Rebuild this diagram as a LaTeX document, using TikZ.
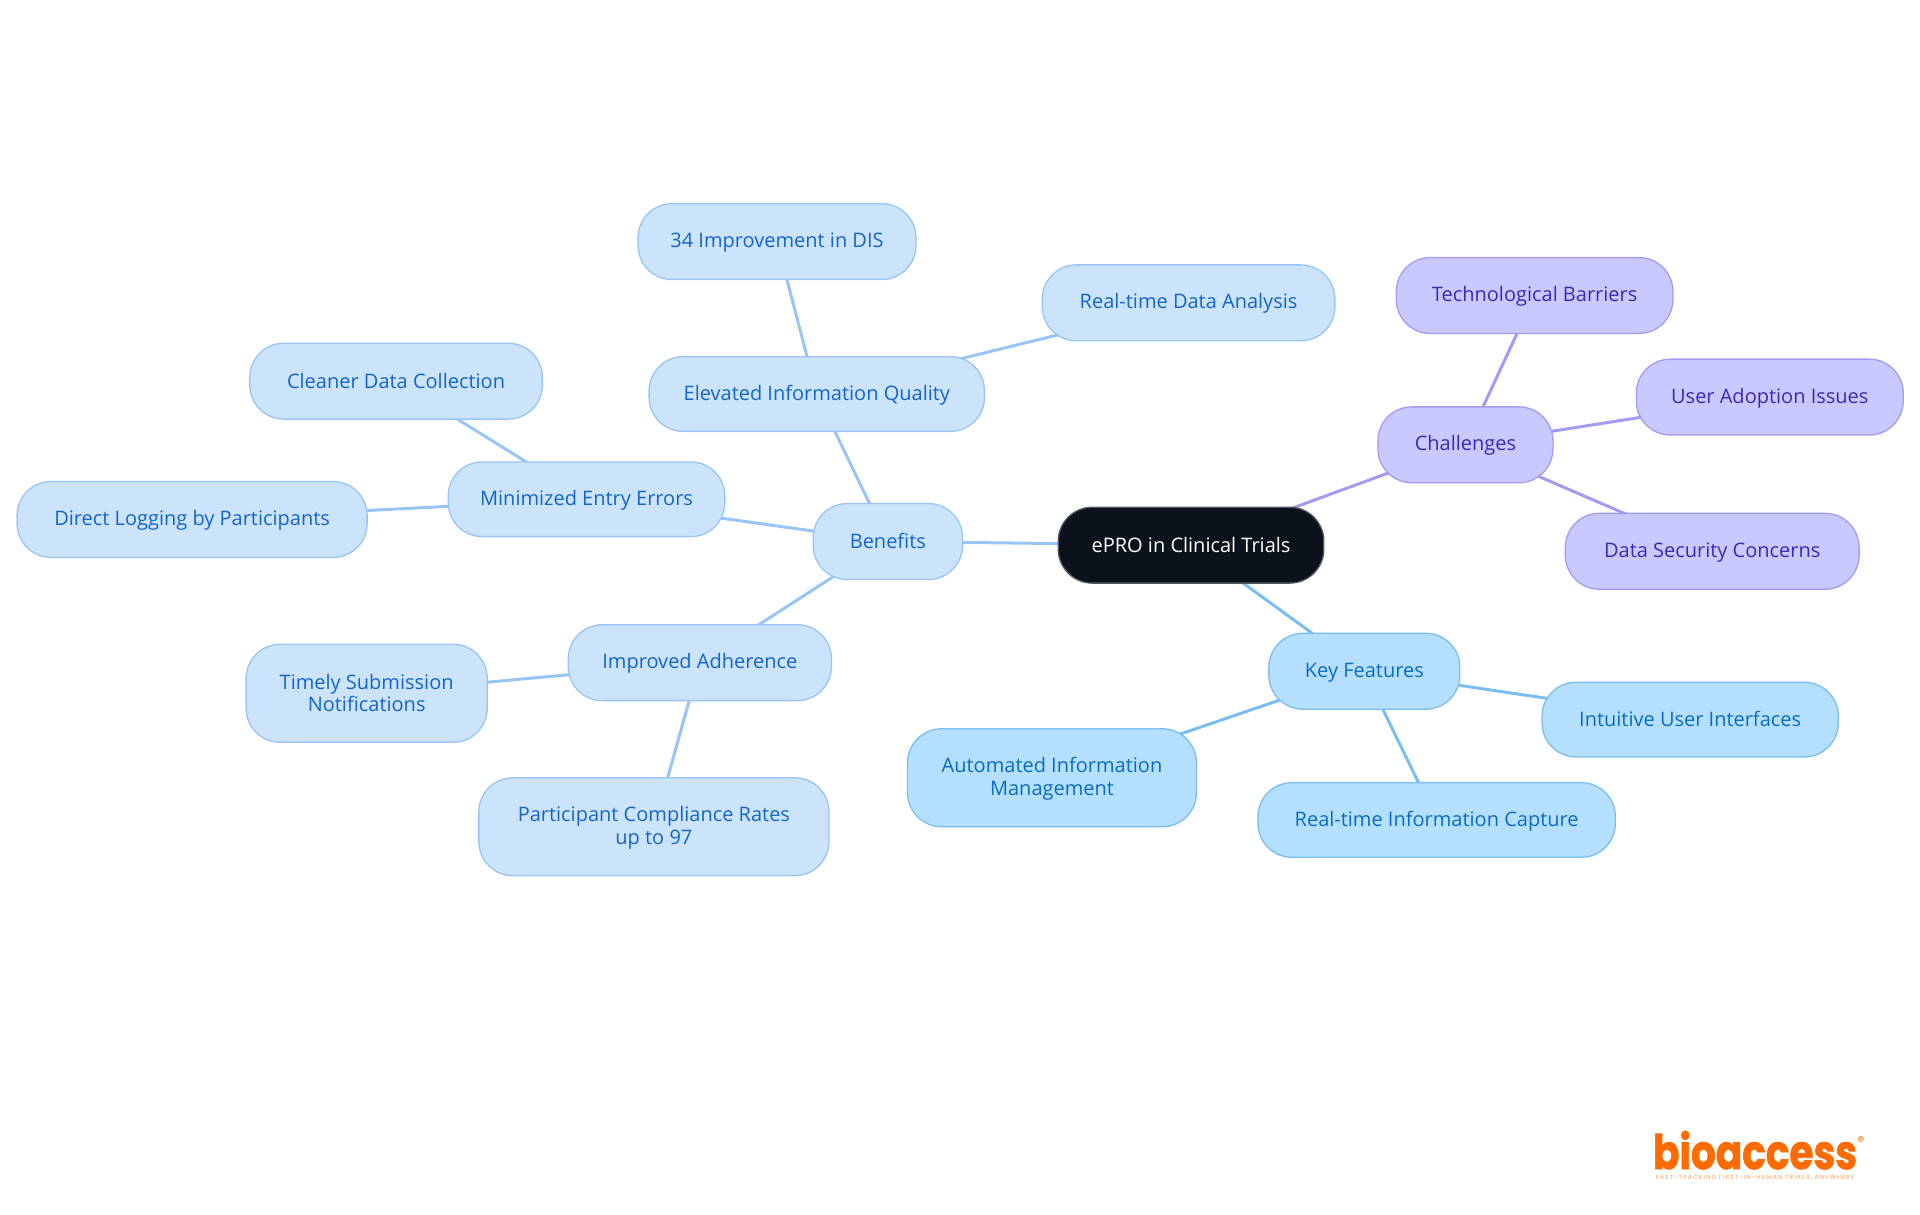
\documentclass[tikz,border=0pt]{standalone}
\usepackage{fontspec}
\setmainfont{Open Sans}
\newfontfamily\logofont[BoldFeatures={FakeBold=1.6}]{Poppins}
\newfontfamily\tagfont[LetterSpace=19]{Poppins}
\usetikzlibrary{backgrounds}
\definecolor{bfill}{HTML}{CCE3FC}\definecolor{bline}{HTML}{98C5F5}\definecolor{btext}{HTML}{1565C8}
\definecolor{kfill}{HTML}{B5DFFF}\definecolor{kline}{HTML}{7ABDF0}\definecolor{ktext}{HTML}{0A6CC2}
\definecolor{cfill}{HTML}{C9C9FF}\definecolor{cline}{HTML}{A39BF0}\definecolor{ctext}{HTML}{3F27B8}
\definecolor{rootfill}{HTML}{0B121B}\definecolor{logoorange}{HTML}{FF6B00}\definecolor{tagorange}{HTML}{FF9A50}
\tikzset{
 x=1pt,y=-1pt,
 mind/.style={rounded corners=34pt,line width=1.3pt,align=center,inner sep=0pt,font=\fontsize{20}{22.5}\selectfont},
 rootbox/.style={mind,fill=rootfill,draw=rootfill!70!white,text=white},
 benbox/.style={mind,fill=bfill,draw=bline,text=btext},
 keybox/.style={mind,fill=kfill,draw=kline,text=ktext},
 chalbox/.style={mind,fill=cfill,draw=cline,text=ctext},
 benedge/.style={draw=bline,line width=3pt},
 keyedge/.style={draw=kline,line width=3pt},
 chaledge/.style={draw=cline,line width=3pt},
}
\newcommand{\bxstrut}{\rule{0pt}{17pt}\rule[-3pt]{0pt}{3pt}}
\newcommand{\bx}[7]{% style name x0 y0 x1 y1 text
 \pgfmathsetmacro{\bxw}{(#5-#3)*1.224}\pgfmathsetmacro{\bxh}{(#6-#4)*1.224}
 \pgfmathsetmacro{\bxx}{(#5+#3)*0.61245-0.2}\pgfmathsetmacro{\bxy}{(#6+#4)*0.612+0.5}
 \node[#1,minimum width=\bxw pt,minimum height=\bxh pt] (#2) at (\bxx,\bxy) {\bxstrut #7\bxstrut};
}
\begin{document}
\begin{tikzpicture}
\useasboundingbox (0,0) rectangle (1920,1215);
\bx{rootbox}{root}{864}{414}{1081}{476}{ePRO in Clinical Trials}
\bx{benbox}{ben}{664}{411}{786}{473}{Benefits}
\bx{benbox}{eiq}{530}{291}{804}{352}{Elevated Information Quality}
\bx{benbox}{dis}{521}{166}{748}{228}{34 Improvement in DIS}
\bx{benbox}{rda}{851}{216}{1090}{278}{Real-time Data Analysis}
\bx{benbox}{mee}{366}{377}{592}{438}{Minimized Entry Errors}
\bx{benbox}{cdc}{204}{280}{443}{342}{Cleaner Data Collection}
\bx{benbox}{dlp}{14}{393}{300}{455}{Direct Logging by Participants}
\bx{benbox}{iad}{464}{510}{679}{572}{Improved Adherence}
\bx{benbox}{tsn}{201}{526}{398}{606}{Timely Submission\\Notifications}
\bx{benbox}{pcr}{391}{635}{677}{715}{Participant Compliance Rates\\up to 97}
\bx{keybox}{kfe}{1036}{517}{1192}{579}{Key Features}
\bx{keybox}{aim}{741}{595}{977}{675}{Automated Information\\Management}
\bx{keybox}{ric}{1027}{639}{1319}{700}{Real-time Information Capture}
\bx{keybox}{iui}{1259}{557}{1501}{618}{Intuitive User Interfaces}
\bx{chalbox}{cha}{1125}{332}{1268}{394}{Challenges}
\bx{chalbox}{tba}{1140}{210}{1366}{272}{Technological Barriers}
\bx{chalbox}{uai}{1336}{293}{1554}{355}{User Adoption Issues}
\bx{chalbox}{dsc}{1278}{419}{1518}{481}{Data Security Concerns}
\begin{scope}[on background layer]
\draw[benedge] (root.center)--(ben.center);
\draw[benedge] (ben.center)--(eiq.center);
\draw[benedge] (eiq.center)--(dis.center);
\draw[benedge] (eiq.center)--(rda.center);
\draw[benedge] (ben.center)--(mee.center);
\draw[benedge] (mee.center)--(cdc.center);
\draw[benedge] (mee.center)--(dlp.center);
\draw[benedge] (ben.center)--(iad.center);
\draw[benedge] (iad.center)--(tsn.center);
\draw[benedge] (iad.center)--(pcr.center);
\draw[keyedge] (root.center)--(kfe.center);
\draw[keyedge] (kfe.center)--(aim.center);
\draw[keyedge] (kfe.center)--(ric.center);
\draw[keyedge] (kfe.center)--(iui.center);
\draw[chaledge] (root.center)--(cha.center);
\draw[chaledge] (cha.center)--(tba.center);
\draw[chaledge] (cha.center)--(uai.center);
\draw[chaledge] (cha.center)--(dsc.center);
\end{scope}
\node[text=logoorange,inner sep=0pt,anchor=base,font=\logofont\bfseries\fontsize{39}{39}\selectfont] (logo) at (1755,1169) {\scalebox{1}[1.22]{bioaccess}};
\node[text=logoorange,inner sep=0pt,font=\logofont\fontsize{14}{14}\selectfont] (reg) at (1861,1142) {®};
\node[text=tagorange,inner sep=0pt,font=\tagfont\fontsize{6}{7}\selectfont] (tag) at (1755,1177.5) {FAST-TRACKING FIRST-IN-HUMAN TRIALS, ANYWHERE};
\end{tikzpicture}
\end{document}
